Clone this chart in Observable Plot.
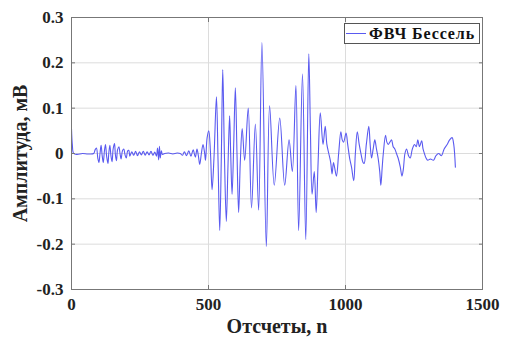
<!DOCTYPE html>
<html><head><meta charset="utf-8">
<script src="https://cdn.jsdelivr.net/npm/d3@7"></script>
<script src="https://cdn.jsdelivr.net/npm/@observablehq/plot@0.6"></script>
<style>
body{margin:0;background:#fff}
#chart{position:relative;width:506px;height:343px}
#chart svg text{font-family:"Liberation Serif" !important}
.legend{position:absolute;left:344px;top:23px;width:136px;height:21px;border:1px solid #555;background:#fff;
 font-family:"Liberation Serif";font-weight:bold;font-size:16px;letter-spacing:0.9px;display:flex;align-items:center;box-sizing:border-box;color:#111}
.legend .sw{display:inline-block;width:20px;height:0;border-top:1px solid #5a5af0;margin:0 3px 0 1px}
</style></head>
<body><div id="chart"></div>
<script>
const sampleIdx = [0,3,8,20,40,60,81,86,91,96,100,104,108,112,116,120,124,128,133,136,140,144,148,152,157,160,164,168,173,177,181,186,191,195,200,205,209,213,220,227,234,241,248,255,262,269,276,283,290,297,304,310,314,318,321,324,328,332,340,355,370,385,397,405,412,420,428,436,444,452,458,463,468,474,480,486,489,495,501,507,513,520,529,535,541,547,552,558,565,571,577,581,586,592,598,604,610,616,623,632,645,657,671,683,695,711,723,740,760,778,794,806,819,829,843,855,866,872,878,886,893,900,908,918,926,932,939,946,951,956,960,967,975,983,988,993,1002,1008,1015,1022,1030,1036,1043,1050,1058,1064,1068,1076,1085,1090,1095,1101,1107,1113,1119,1125,1129,1134,1138,1146,1151,1156,1162,1168,1174,1180,1186,1192,1200,1206,1211,1217,1223,1230,1236,1244,1252,1258,1264,1270,1278,1283,1288,1294,1300,1310,1321,1330,1340,1350,1360,1371,1380,1389,1395,1401];
const amplitude = [0.055,0.02,0.0,-0.002,0.0,-0.001,0.0,0.008,0.012,-0.01,-0.02,0.0,0.018,-0.005,-0.02,0.005,0.02,-0.005,-0.022,0.0,0.018,-0.005,-0.018,0.01,0.022,-0.002,-0.016,0.008,0.015,0.0,-0.012,0.006,0.01,-0.002,-0.01,0.006,0.007,-0.006,0.004,-0.004,0.005,-0.005,0.004,-0.003,0.005,-0.004,0.004,-0.003,0.005,-0.004,0.003,-0.006,0.012,-0.014,0.016,-0.01,0.006,-0.002,0.0,0.001,-0.001,0.001,0.0,-0.004,0.004,-0.005,0.006,-0.006,0.008,-0.008,0.01,-0.005,-0.024,0.0,0.02,0.0,-0.015,0.035,0.05,0.005,-0.08,-0.01,0.125,-0.02,-0.17,0.0,0.185,0.0,-0.15,-0.03,0.083,0.0,-0.09,0.02,0.145,0.0,-0.13,-0.02,0.055,-0.015,0.1,-0.12,0.065,-0.125,0.245,-0.205,0.105,-0.07,0.078,-0.07,0.03,-0.04,0.15,-0.17,0.175,-0.19,0.22,0.05,-0.09,-0.04,-0.13,-0.02,0.09,0.02,0.06,0.02,0.0,-0.02,-0.045,-0.02,-0.03,-0.05,0.0,0.048,0.03,0.025,0.045,0.02,-0.01,-0.03,-0.06,0.0,0.048,0.02,-0.005,-0.02,-0.022,0.02,0.06,0.02,-0.01,0.01,0.03,0.01,-0.01,-0.04,-0.07,-0.03,0.0,0.04,0.025,0.02,0.025,0.03,0.015,0.01,0.0,-0.01,-0.03,-0.05,-0.035,0.0,0.01,-0.005,-0.01,0.01,0.02,0.015,0.03,0.015,0.028,0.01,0.0,-0.01,-0.015,-0.012,-0.015,-0.005,0.0,-0.005,0.01,0.02,0.03,0.035,0.02,-0.03];
const xTicks = [0,500,1000,1500];
const yTicks = [-0.3,-0.2,-0.1,0,0.1,0.2,0.3];
const xLabel = "Отсчеты, n";
const yLabel = "Амплитуда, мВ";
const seriesName = "ФВЧ Бессель";

const data = sampleIdx.map((n,i)=>({n, a: amplitude[i]}));
const fmt = d => d === 0 ? "0" : String(d);
const blank = () => "";

const plot = Plot.plot({
  width: 506, height: 343,
  marginLeft: 71, marginRight: 24, marginTop: 17, marginBottom: 54,
  style: {fontFamily: "Liberation Serif", fontWeight: "bold", fontSize: "17px", color: "#222", background: "#fff"},
  x: {domain: [0,1500]},
  y: {domain: [-0.3,0.3]},
  marks: [
    Plot.gridX(xTicks, {stroke: "#dcdcdc", strokeOpacity: 1}),
    Plot.gridY(yTicks, {stroke: "#dcdcdc", strokeOpacity: 1}),
    Plot.line(data, {x: "n", y: "a", stroke: "#5a5af0", strokeWidth: 1.1, curve: "catmull-rom"}),
    Plot.frame({stroke: "#777"}),
    Plot.axisX(xTicks, {anchor: "bottom", tickSize: -4, tickFormat: blank, label: null, stroke: "#777"}),
    Plot.axisX(xTicks, {anchor: "top", tickSize: -4, tickFormat: blank, label: null, stroke: "#777"}),
    Plot.axisY(yTicks, {anchor: "left", tickSize: -4, tickFormat: blank, label: null, stroke: "#777"}),
    Plot.axisY(yTicks, {anchor: "right", tickSize: -4, tickFormat: blank, label: null, stroke: "#777"}),
    Plot.axisX(xTicks, {anchor: "bottom", tickSize: 0, tickPadding: 8, tickFormat: fmt, label: null, fontSize: 17}),
    Plot.axisY(yTicks, {anchor: "left", tickSize: 0, tickPadding: 8, tickFormat: fmt, label: null, fontSize: 17}),
    Plot.text([xLabel], {frameAnchor: "bottom", dy: 43, fontSize: 20, fontWeight: "bold", fill: "#222"}),
    Plot.text([yLabel], {frameAnchor: "left", textAnchor: "middle", dx: -51, rotate: -90, fontSize: 20, fontWeight: "bold", fill: "#222"})
  ]
});
const chart = document.getElementById("chart");
chart.appendChild(plot);
const lg = document.createElement("div");
lg.className = "legend";
lg.innerHTML = '<span class="sw"></span><span></span>';
lg.lastChild.textContent = seriesName;
chart.appendChild(lg);
</script>
</body></html>
